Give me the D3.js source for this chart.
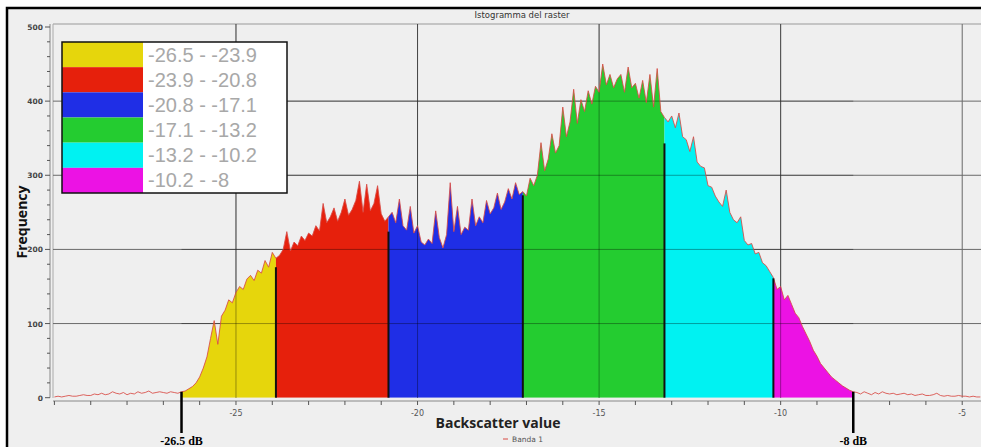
<!DOCTYPE html>
<html>
<head>
<meta charset="utf-8">
<script src="https://cdn.jsdelivr.net/npm/d3@7"></script>
<style>
  html, body { margin: 0; padding: 0; background: #fff; }
  svg { display: block; }
</style>
</head>
<body>
<svg id="chart" width="981" height="447"></svg>
<script>
// histogram of backscatter (bins of 0.1 dB starting at -30 dB)
const binStart = -30;
const binStep = 0.1;
const frequency = [
  // -30.0 .. -26.6
  1, 2, 1, 2, 3, 2, 2, 3, 4, 3, 3, 5, 4, 6, 4, 5, 8, 6, 5, 7,
  4, 6, 5, 8, 6, 7, 9, 6, 7, 8, 7, 6, 8, 7, 6,
  // -26.5 .. -23.9
  8, 9, 12, 15, 20, 28, 40, 55, 80, 104, 72, 110, 118, 132, 128, 142, 150, 146, 160, 165,
  158, 172, 168, 185, 176, 196, 188,
  // -23.8 .. -20.9
  192, 200, 224, 198, 210, 205, 218, 212, 222, 218, 232, 225, 262, 236, 244, 256, 238, 250, 268, 246,
  254, 266, 292, 250, 288, 252, 262, 286, 248, 238,
  // -20.8 .. -17.2
  244, 250, 236, 268, 232, 226, 258, 222, 232, 210, 206, 214, 208, 252, 216, 202, 220, 290, 224, 258,
  220, 230, 226, 268, 232, 244, 236, 266, 248, 256, 276, 254, 264, 282, 268, 290, 274,
  // -17.1 .. -13.3
  278, 272, 296, 286, 300, 344, 306, 322, 356, 330, 340, 392, 352, 372, 416, 370, 402, 386, 414, 396,
  420, 412, 450, 422, 436, 418, 430, 436, 412, 446, 418, 424, 404, 428, 398, 436, 392, 444, 386,
  // -13.2 .. -10.3
  378, 372, 380, 364, 384, 352, 348, 332, 352, 318, 312, 310, 286, 284, 272, 264, 258, 280, 250, 240,
  236, 244, 212, 206, 208, 194, 196, 182, 178, 170,
  // -10.2 .. -8.0
  162, 146, 150, 132, 138, 126, 114, 108, 96, 86, 76, 64, 56, 46, 40, 34, 28, 24, 20, 16,
  13, 10, 8,
  // -7.9 .. -4.5
  7, 5, 8, 6, 4, 7, 5, 8, 6, 5, 6, 4, 5, 6, 4, 5, 3, 4, 5, 3,
  3, 4, 6, 3, 2, 3, 2, 2, 3, 2, 2, 1, 2, 1, 1
];

const classBreaks = [-26.5, -23.9, -20.8, -17.1, -13.2, -10.2, -8];
const classLabels = ["-26.5 - -23.9", "-23.9 - -20.8", "-20.8 - -17.1", "-17.1 - -13.2", "-13.2 - -10.2", "-10.2 - -8"];
const classColors = ["#e6d60c", "#e6200c", "#1f2ee6", "#24cc30", "#00f2f2", "#ec12e4"];
// height reached by the black separator drawn at each inner break
const breakTops = [176, 224, 273, 343, 161];
const markers = [{ v: -26.5, label: "-26.5 dB" }, { v: -8, label: "-8 dB" }];

const xMajorTicks = [-25, -20, -15, -10, -5];
const yMajorTicks = [0, 100, 200, 300, 400, 500];

const svg = d3.select("#chart");

const bins = frequency.map((f, i) => ({ v: +(binStart + i * binStep).toFixed(1), f: f }));

const x = d3.scaleLinear().domain([-30.05, -4.4]).range([52.6, 984]);
const y = d3.scaleLinear().domain([0, 500]).range([397.7, 27]);

// outer frame
svg.append("rect").attr("x", 0).attr("y", 0).attr("width", 981).attr("height", 447).attr("fill", "#fff");
svg.append("rect")
   .attr("x", 7).attr("y", 8).attr("width", 990).attr("height", 460)
   .attr("fill", "#efefef").attr("stroke", "#000").attr("stroke-width", 2.5);

svg.append("text")
   .attr("x", 522).attr("y", 18)
   .attr("text-anchor", "middle")
   .style("font", "8.5px 'DejaVu Sans', sans-serif")
   .attr("fill", "#333")
   .text("Istogramma del raster");

// plot frame
svg.append("line").attr("x1", 53).attr("x2", 981).attr("y1", 24).attr("y2", 24)
   .attr("stroke", "#999").attr("stroke-width", 1.2);
svg.append("line").attr("x1", 53).attr("x2", 53).attr("y1", 24).attr("y2", 398)
   .attr("stroke", "#aaa").attr("stroke-width", 1);

// grid
const grid = svg.append("g").attr("stroke", "#6a6a6a").attr("stroke-width", 1);
grid.selectAll("line.gx").data(xMajorTicks).join("line")
    .attr("x1", d => x(d)).attr("x2", d => x(d))
    .attr("y1", 24).attr("y2", y(0));
grid.selectAll("line.gy").data(yMajorTicks.filter(d => d > 0 && d < 500)).join("line")
    .attr("x1", 53).attr("x2", 981)
    .attr("y1", d => y(d)).attr("y2", d => y(d));

// coloured classes
const area = d3.area()
    .x(d => x(d.v))
    .y0(y(0))
    .y1(d => y(d.f));

const defs = svg.append("defs");
classLabels.forEach((lab, i) => {
    defs.append("clipPath").attr("id", "cls" + i)
        .append("rect")
        .attr("x", x(classBreaks[i]))
        .attr("width", x(classBreaks[i + 1]) - x(classBreaks[i]))
        .attr("y", 0).attr("height", y(0));
    svg.append("path")
       .datum(bins)
       .attr("clip-path", "url(#cls" + i + ")")
       .attr("fill", classColors[i])
       .attr("d", area);
});

// re-draw grid lines that show through the fill
const grid2 = svg.append("g").attr("stroke", "#000").attr("stroke-opacity", 0.35).attr("stroke-width", 1);
grid2.selectAll("line").data(xMajorTicks.filter(d => d > -26.5 && d < -8)).join("line")
     .attr("x1", d => x(d)).attr("x2", d => x(d))
     .attr("y1", 24).attr("y2", y(0));
grid2.selectAll("line.h").data([100, 200, 300, 400]).join("line")
     .attr("x1", x(-26.5)).attr("x2", x(-8))
     .attr("y1", d => y(d)).attr("y2", d => y(d));

// histogram outline
svg.append("path")
   .datum(bins)
   .attr("fill", "none")
   .attr("stroke", "#d84a44")
   .attr("stroke-opacity", 0.85)
   .attr("stroke-width", 1)
   .attr("d", d3.line().x(d => x(d.v)).y(d => y(d.f)));

// black separators between classes
svg.selectAll("line.brk").data(classBreaks.slice(1, -1)).join("line")
   .attr("x1", d => x(d)).attr("x2", d => x(d))
   .attr("y1", y(0)).attr("y2", (d, i) => y(breakTops[i]))
   .attr("stroke", "#111").attr("stroke-width", 2);

// x axis
const xAxisY = 401;
svg.append("line").attr("x1", 53).attr("x2", 981).attr("y1", xAxisY).attr("y2", xAxisY)
   .attr("stroke", "#888").attr("stroke-width", 1);
svg.selectAll("line.xt").data(d3.range(-30, -4)).join("line")
   .attr("x1", d => x(d)).attr("x2", d => x(d))
   .attr("y1", xAxisY).attr("y2", xAxisY + 4)
   .attr("stroke", "#555").attr("stroke-width", 1);
svg.selectAll("text.xl").data(xMajorTicks).join("text")
   .attr("x", d => x(d)).attr("y", 416)
   .attr("text-anchor", "middle")
   .style("font", "8px 'DejaVu Sans', sans-serif")
   .attr("fill", "#555")
   .text(d => d);

// y axis
const yAxisX = 50;
svg.append("line").attr("x1", yAxisX).attr("x2", yAxisX).attr("y1", 24).attr("y2", y(0))
   .attr("stroke", "#888").attr("stroke-width", 1);
svg.selectAll("line.yt").data(d3.range(0, 501, 20)).join("line")
   .attr("x1", d => d % 100 === 0 ? yAxisX - 5 : yAxisX - 3).attr("x2", yAxisX)
   .attr("y1", d => y(d)).attr("y2", d => y(d))
   .attr("stroke", "#555").attr("stroke-width", 1);
svg.selectAll("text.yl").data(yMajorTicks).join("text")
   .attr("x", 43).attr("y", d => y(d) + 3)
   .attr("text-anchor", "end")
   .style("font", "bold 7.5px 'DejaVu Sans', sans-serif")
   .attr("fill", "#444")
   .text(d => d);

svg.append("text")
   .attr("transform", "translate(27,222) rotate(-90)")
   .attr("text-anchor", "middle")
   .style("font", "bold 14px 'Open Sans', sans-serif")
   .attr("fill", "#111")
   .text("Frequency");

svg.append("text")
   .attr("x", 498).attr("y", 428)
   .attr("text-anchor", "middle")
   .style("font", "bold 14px 'Open Sans', sans-serif")
   .attr("fill", "#222")
   .text("Backscatter value");

// series legend
svg.append("line").attr("x1", 503).attr("x2", 508).attr("y1", 439).attr("y2", 439)
   .attr("stroke", "#d84a44").attr("stroke-width", 1);
svg.append("text")
   .attr("x", 512).attr("y", 442)
   .style("font", "7.5px 'DejaVu Sans', sans-serif")
   .attr("fill", "#555")
   .text("Banda 1");

// dB markers under the axis
markers.forEach(m => {
    const i = Math.round((m.v - binStart) / binStep);
    svg.append("line")
       .attr("x1", x(m.v)).attr("x2", x(m.v))
       .attr("y1", y(frequency[i])).attr("y2", 433)
       .attr("stroke", "#000").attr("stroke-width", 2.5);
    svg.append("text")
       .attr("x", x(m.v)).attr("y", 445)
       .attr("text-anchor", "middle")
       .style("font", "bold 12px 'Liberation Serif', serif")
       .attr("fill", "#000")
       .text(m.label);
});

// class legend
const lg = svg.append("g").attr("transform", "translate(62,42)");
const rowH = 151 / 6;
lg.append("rect").attr("width", 225).attr("height", 151).attr("fill", "#fff");
lg.selectAll("rect.sw").data(classColors).join("rect")
  .attr("x", 0).attr("y", (d, i) => i * rowH)
  .attr("width", 81).attr("height", rowH)
  .attr("fill", d => d);
lg.selectAll("text").data(classLabels).join("text")
  .attr("x", 86).attr("y", (d, i) => i * rowH + rowH / 2 + 7)
  .style("font", "20px 'Liberation Sans', sans-serif")
  .attr("fill", "#a8a8a8")
  .text(d => d);
lg.append("rect").attr("width", 225).attr("height", 151)
  .attr("fill", "none").attr("stroke", "#111").attr("stroke-width", 1.5);
</script>
</body>
</html>
